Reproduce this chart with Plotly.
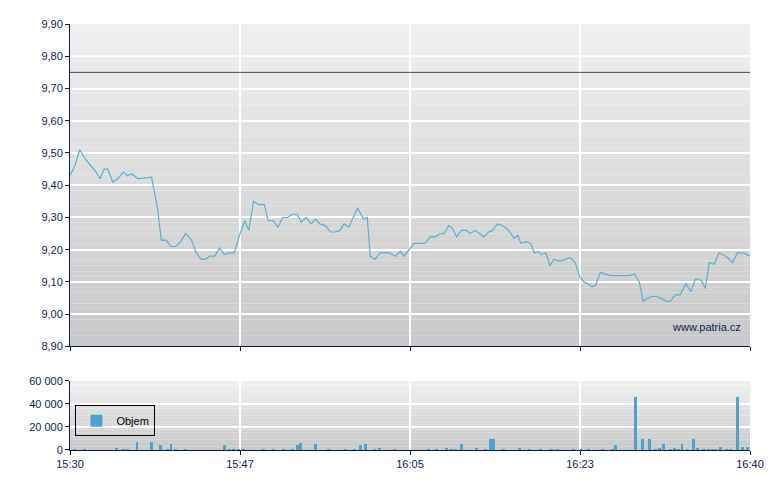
import plotly.graph_objects as go

price_t = [0,0.5,1.0,1.6,2.3,2.7,3.1,3.5,3.9,4.4,4.9,5.5,5.9,6.4,7.0,8.4,9.0,9.4,9.9,10.4,10.9,11.4,11.9,12.5,13.0,13.5,13.9,14.4,14.9,15.4,15.9,16.4,16.9,17.5,18.0,18.4,18.9,19.4,20.0,20.4,20.9,21.4,21.9,22.4,22.9,23.4,23.8,24.3,24.8,25.3,25.7,26.3,26.8,27.3,27.8,28.2,28.7,29.2,29.6,30.2,30.6,30.9,31.4,31.9,32.4,32.9,33.5,34.0,34.4,34.9,35.4,36.0,36.5,37.1,37.6,38.1,38.5,39.0,39.4,39.8,40.3,40.8,41.2,41.7,42.1,42.6,43.1,43.5,44.0,44.5,45.0,45.4,45.7,46.1,46.4,46.9,47.4,47.8,48.2,48.5,49.0,49.4,49.8,50.4,51.0,51.5,52.0,52.5,52.9,53.3,53.7,54.1,54.6,55.1,55.6,56.6,57.6,58.1,58.6,59.0,59.5,59.9,60.4,60.8,61.4,61.8,62.3,62.8,63.4,63.9,64.4,65.0,65.4,65.8,66.3,66.8,67.2,67.7,68.2,68.7,69.3,70.0]
price_v = [9.43,9.46,9.51,9.48,9.455,9.44,9.42,9.45,9.45,9.41,9.42,9.44,9.43,9.435,9.42,9.425,9.33,9.23,9.23,9.21,9.21,9.225,9.25,9.23,9.19,9.17,9.17,9.18,9.18,9.205,9.185,9.19,9.19,9.25,9.29,9.26,9.35,9.34,9.34,9.29,9.29,9.27,9.30,9.30,9.31,9.31,9.285,9.30,9.28,9.295,9.28,9.275,9.255,9.255,9.26,9.28,9.27,9.305,9.33,9.295,9.30,9.18,9.17,9.19,9.19,9.19,9.18,9.195,9.18,9.20,9.22,9.22,9.22,9.24,9.24,9.25,9.25,9.275,9.265,9.24,9.26,9.26,9.25,9.26,9.25,9.24,9.255,9.26,9.28,9.275,9.265,9.25,9.235,9.245,9.22,9.225,9.22,9.19,9.195,9.185,9.19,9.15,9.17,9.165,9.17,9.175,9.16,9.115,9.10,9.095,9.085,9.09,9.13,9.125,9.12,9.12,9.12,9.125,9.10,9.04,9.05,9.055,9.055,9.05,9.04,9.04,9.06,9.06,9.095,9.07,9.11,9.105,9.08,9.16,9.155,9.19,9.185,9.175,9.16,9.19,9.19,9.18]

vol_t = [0.5,1.5,4.8,5.5,5.9,6.9,8.4,9.3,10.0,10.4,10.9,11.9,15.9,16.4,16.8,17.3,17.9,19.9,20.9,22.0,22.9,23.4,23.7,25.3,26.6,28.4,29.3,29.9,30.4,31.4,31.9,33.4,36.9,37.7,38.8,39.3,39.7,40.3,41.8,42.8,43.3,43.6,44.6,46.3,47.3,48.4,49.6,50.2,51.8,52.7,53.4,54.8,55.8,56.2,58.2,58.9,59.7,60.3,60.7,61.1,61.8,62.2,62.6,63.0,63.6,64.2,64.6,65.2,65.7,66.1,66.5,67.0,67.6,68.0,68.7,69.2,69.7]
vol_v = [1000,1000,2000,1000,1000,7000,7000,4000,1000,5500,1000,1000,4000,1000,1000,1000,1000,1000,1000,1000,1000,4000,6500,5000,1000,1000,1000,4000,5000,1000,2000,1000,1000,1000,2000,1000,1000,5000,2000,1000,10000,10000,1000,2000,1000,1000,1000,1000,1000,1000,1000,1000,1000,4000,46000,10000,10000,1000,2000,5500,1000,2000,1000,5000,1000,10000,2000,1000,1000,1000,1000,3000,1000,1000,46000,3000,3000]

x_tickvals = [0, 17.5, 35, 52.5, 70]
x_ticktext = ["15:30", "15:47", "16:05", "16:23", "16:40"]
p_ticks = [8.9,9.0,9.1,9.2,9.3,9.4,9.5,9.6,9.7,9.8,9.9]
p_text = ["8,90","9,00","9,10","9,20","9,30","9,40","9,50","9,60","9,70","9,80","9,90"]
v_ticks = [0,20000,40000,60000]
v_text = ["0","20 000","40 000","60 000"]
ref_level = 9.75

navy = "#0d1f4f"
fig = go.Figure()
fig.add_trace(go.Scatter(x=price_t, y=price_v, mode="lines", line=dict(color="#5aaed6", width=1.2),
                         xaxis="x", yaxis="y", showlegend=False))
fig.add_trace(go.Bar(x=vol_t, y=vol_v, width=0.3, marker=dict(color="#4aa3cf", line=dict(width=0)),
                     name="Objem", xaxis="x2", yaxis="y2", showlegend=True))

shapes = []
def gradient(y0, y1, c_top, c_bot, n=60):
    for i in range(n):
        c = [int(c_top[k] + (c_bot[k]-c_top[k]) * (i + 0.5) / n) for k in range(3)]
        a = y1 - (y1 - y0) * i / n
        b = y1 - (y1 - y0) * (i + 1) / n
        shapes.append(dict(type="rect", xref="paper", yref="paper", x0=0, x1=1, y0=b, y1=a,
                           fillcolor="rgb(%d,%d,%d)" % tuple(c), line=dict(width=0), layer="below"))
gradient(0.243, 1.0, (240,240,240), (200,200,200))
gradient(0.0, 0.162, (240,240,240), (200,200,200), 20)
shapes.append(dict(type="line", xref="x", yref="y", x0=0, x1=70, y0=ref_level, y1=ref_level,
                   line=dict(color="#3a4a6a", width=1)))
fig.update_layout(
    width=780, height=490, margin=dict(l=62, r=38, t=10, b=48),
    paper_bgcolor="white", plot_bgcolor="rgba(0,0,0,0)",
    font=dict(family="Liberation Sans, Arial", size=11, color=navy),
    shapes=shapes, bargap=0,
    xaxis=dict(domain=[0,1], range=[0,70], anchor="y", tickvals=x_tickvals, showticklabels=False,
               ticks="outside", ticklen=4, tickcolor=navy, showgrid=True, gridcolor="white", gridwidth=1.5,
               showline=True, linecolor=navy, zeroline=False),
    yaxis=dict(domain=[0.243,1], range=[8.9,9.9], tickvals=p_ticks, ticktext=p_text, ticks="outside",
               ticklen=4, tickcolor=navy, showgrid=True, gridcolor="white", gridwidth=1.5,
               showline=True, linecolor=navy, zeroline=False),
    xaxis2=dict(domain=[0,1], range=[0,70], anchor="y2", tickvals=x_tickvals, ticktext=x_ticktext,
                ticks="outside", ticklen=4, tickcolor=navy, showgrid=True, gridcolor="white", gridwidth=1.5,
                showline=True, linecolor=navy, zeroline=False),
    yaxis2=dict(domain=[0,0.162], range=[0,60000], tickvals=v_ticks, ticktext=v_text, ticks="outside",
                ticklen=4, tickcolor=navy, showgrid=True, gridcolor="white", gridwidth=1.5,
                showline=True, linecolor=navy, zeroline=False),
    legend=dict(x=0.008, y=0.105, xanchor="left", yanchor="top", bgcolor="rgba(0,0,0,0)",
                bordercolor="black", borderwidth=1, itemwidth=30, font=dict(size=11, color="black")),
    annotations=[dict(text="www.patria.cz", xref="paper", yref="paper", x=0.99, y=0.27,
                      xanchor="right", yanchor="bottom", showarrow=False, font=dict(size=11, color=navy))],
)
fig.write_html("out.html")
